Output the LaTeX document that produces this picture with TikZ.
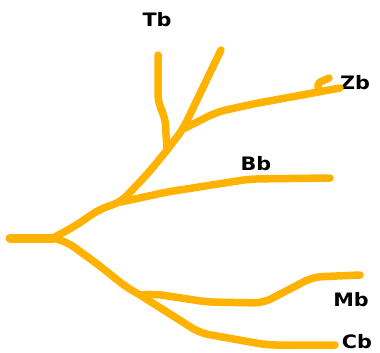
\documentclass[tikz,border=0pt]{standalone}
\usepackage{fontspec}
\newfontfamily\leaffont{DejaVu Sans}
\usepackage{tikz}
\usetikzlibrary{positioning}
\definecolor{Branch}{HTML}{FFB300}
\tikzset{
  branch/.style={draw=Branch,line width=7.5pt,line cap=round,line join=round,rounded corners=9pt},
  leaf/.style={font=\leaffont\bfseries\fontsize{18.5}{18.5}\selectfont,inner sep=0pt,xscale=1.12}
}
\begin{document}
\begin{tikzpicture}[x=1pt,y=-1pt]
  \useasboundingbox (0,0) rectangle (380,353);
  % junctions and tips
  \coordinate (root) at (10,238);
  \coordinate (fork) at (53,238);
  \coordinate (jb) at (121,202);
  \coordinate (jt) at (167,150);
  \coordinate (jz) at (183,129);
  \coordinate (jm) at (140,295);
  \coordinate (tT) at (158,55);
  \coordinate (tU) at (221,50);
  \coordinate (tZ) at (340,88);
  \coordinate (tB) at (330,178);
  \coordinate (tM) at (360,275);
  \coordinate (tC) at (335,345);
  % labels
  \node[leaf] (Tb) at (157,20) {Tb};
  \node[leaf] (Zb) at (355,83) {Zb};
  \node[leaf] (Bb) at (256,164) {Bb};
  \node[leaf] (Mb) at (351,300) {Mb};
  \node[leaf] (Cb) at (357,342) {Cb};
  % trunk
  \draw[branch,line width=9pt] (root) -- (fork);
  \draw[branch] (fork) -- (75,226) -- (100,209) -- (jb) -- (150,171) -- (jt);
  \draw[branch] (jt) -- (165,116) -- (158,104) -- (tT);
  \draw[branch] (jt) -- (jz) -- (tU);
  \draw[branch] (jz) -- (217,112) -- (253,104) -- (tZ);
  \draw[branch,rounded corners=2pt] (318,92) -- (318,83) -- (329,78);
  \draw[branch] (jb) -- (167,192) -- (250,179) -- (tB);
  \draw[branch] (fork) -- (67,242) -- (100,266) -- (126,287) -- (jm);
  \draw[branch] (jm) -- (155,294) -- (207,302) -- (263,303) -- (313,277) -- (tM);
  \draw[branch] (jm) -- (200,333) -- (267,345) -- (tC);
\end{tikzpicture}
\end{document}
